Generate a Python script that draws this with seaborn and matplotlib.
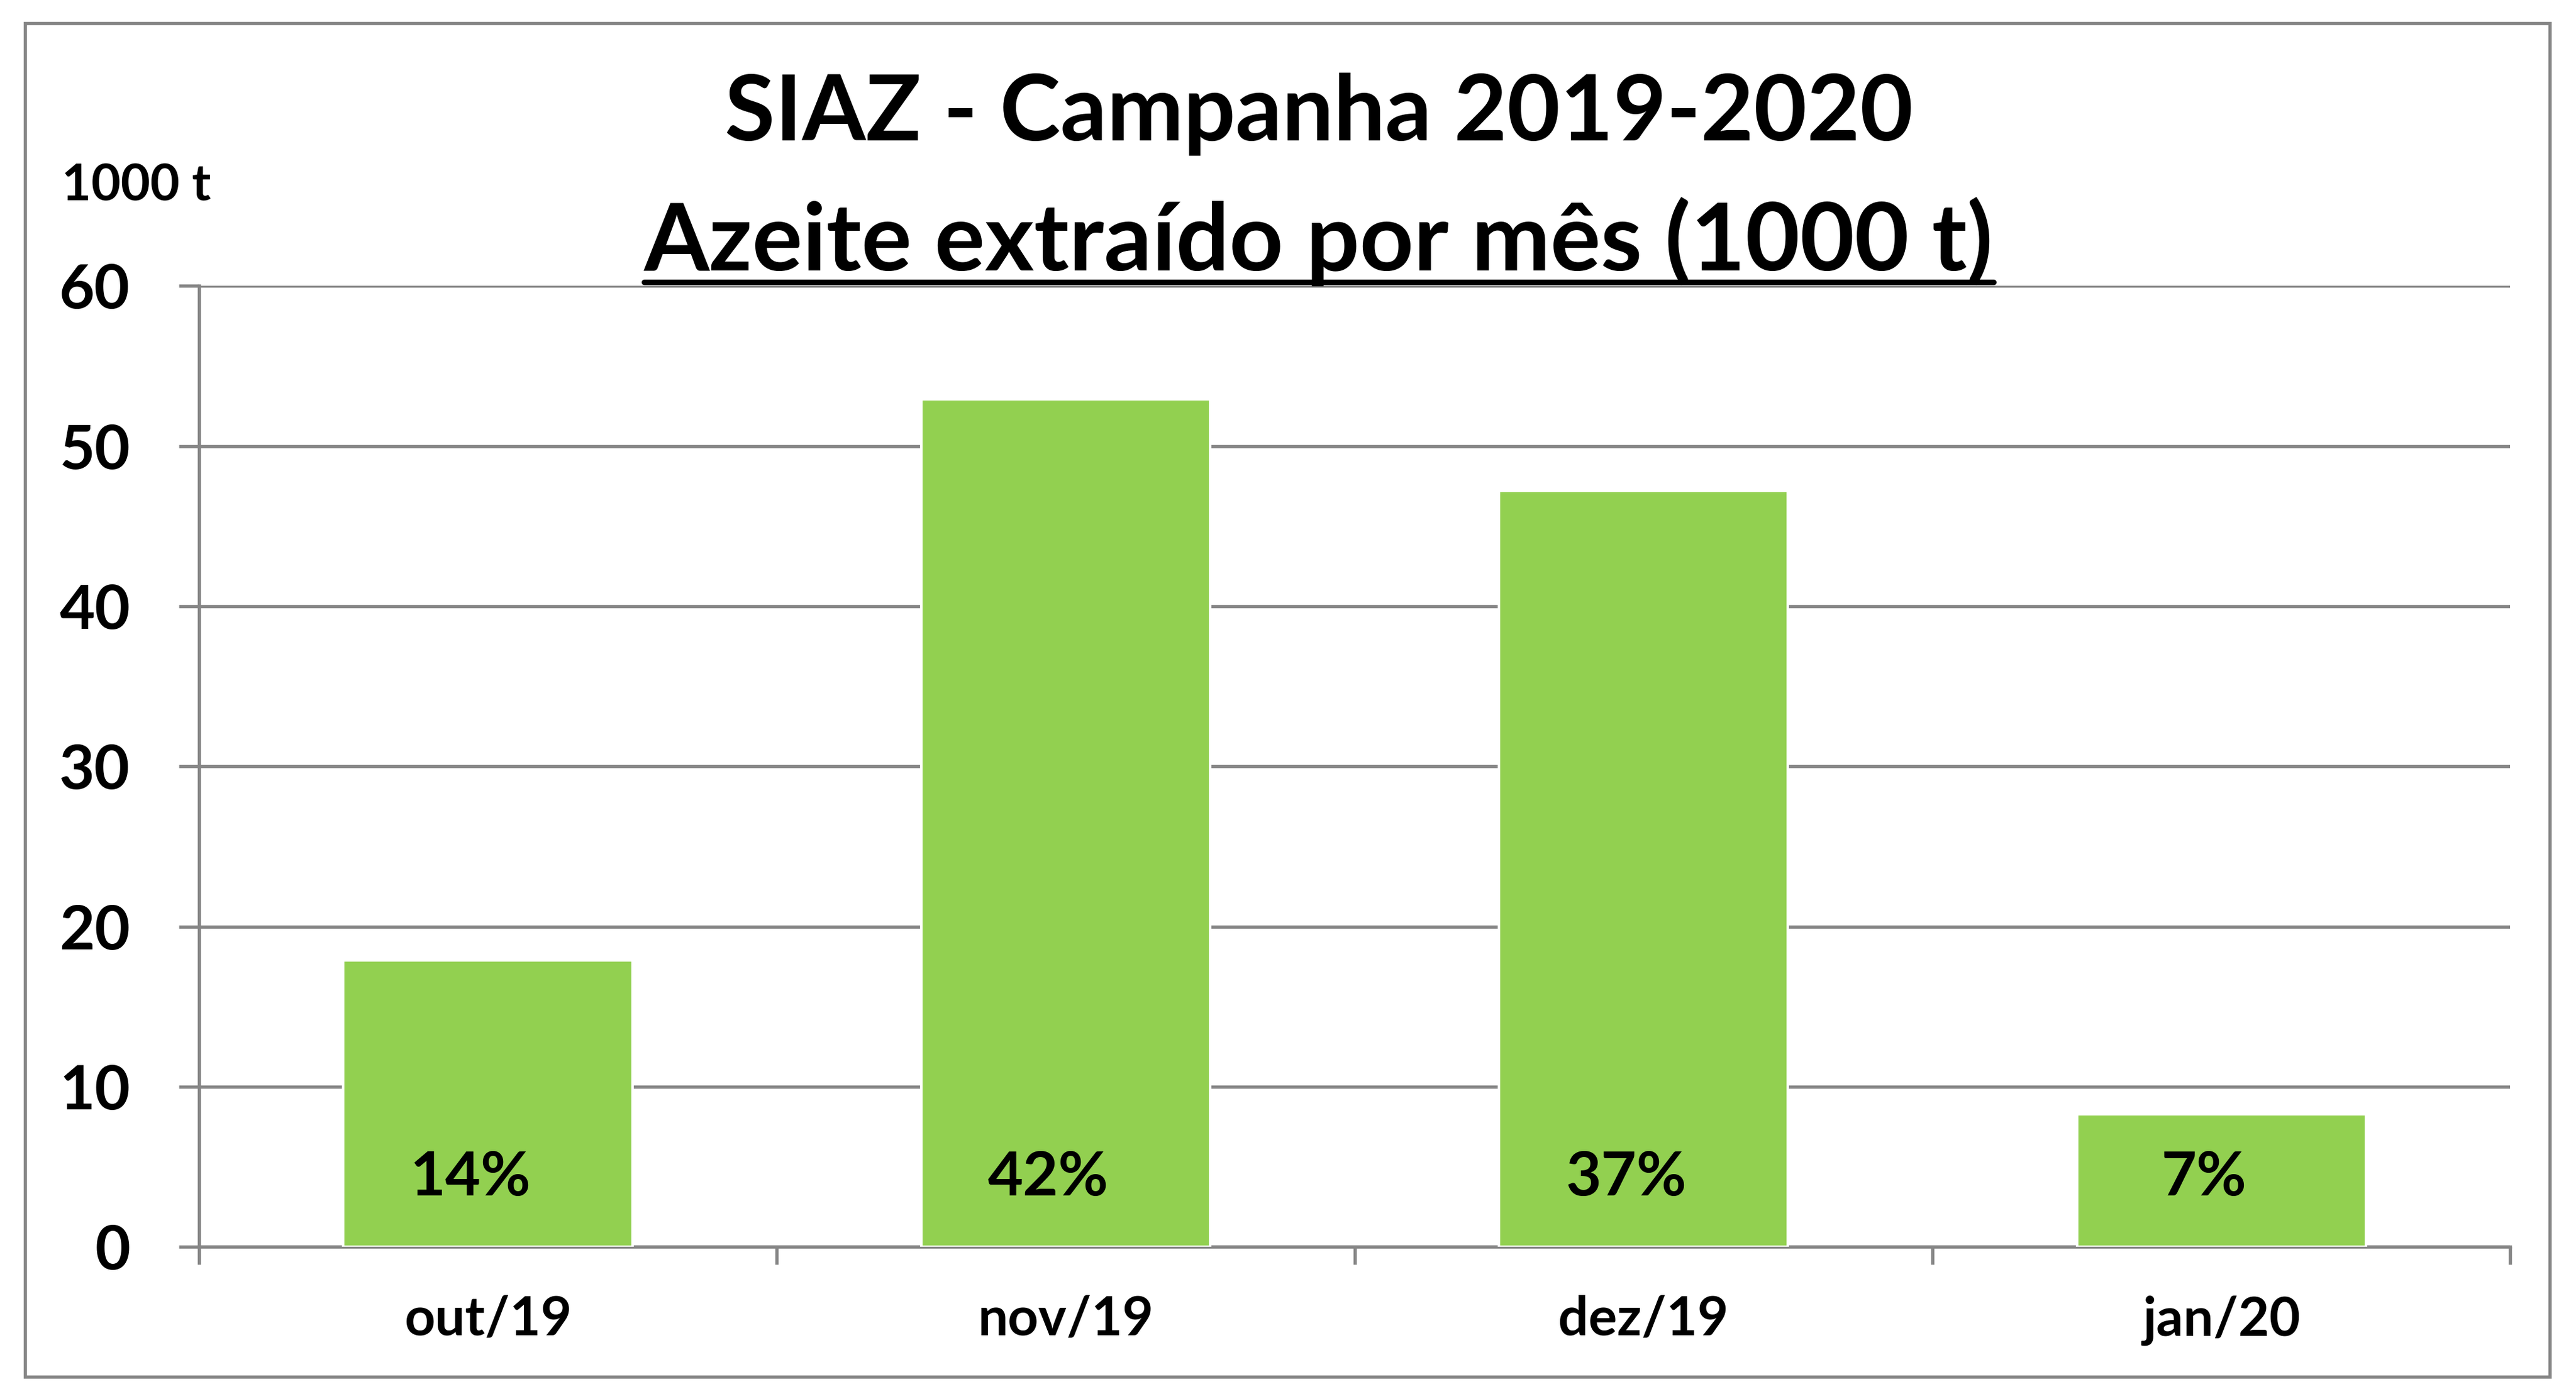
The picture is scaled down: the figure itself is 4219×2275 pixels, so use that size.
import numpy as np
import pandas as pd
import seaborn as sns
import matplotlib.pyplot as plt
from matplotlib.lines import Line2D
from matplotlib.patches import Rectangle

# ------------ data ----------------
months = ["out/19", "nov/19", "dez/19", "jan/20"]
azeite = [17.9, 52.9, 47.2, 8.3]
shares = ["14%", "42%", "37%", "7%"]

df = pd.DataFrame({"mes": months, "azeite": azeite})

# ------------ style ----------------
sns.set_style("white")
plt.rcParams['font.family'] = ['Lato', 'DejaVu Sans']
plt.rcParams['font.weight'] = 'bold'
plt.rcParams['text.color'] = 'black'
plt.rcParams['xtick.color'] = 'black'
plt.rcParams['ytick.color'] = 'black'

green = "#92D050"
grey = "#868686"

fig = plt.figure(figsize=(4219 / 300, 2275 / 300), dpi=300)
ax = fig.add_axes([0.0772, 0.1023, 0.9745 - 0.0772, 0.7942 - 0.1023])

sns.barplot(data=df, x="mes", y="azeite", color=green, width=0.5,
            saturation=1, ax=ax, zorder=3)

ax.set_ylim(0, 60)
ax.set_xlim(-0.5, 3.5)
ax.set_yticks(range(0, 61, 10))
ax.yaxis.grid(True, color=grey, linewidth=1.3, zorder=0)
ax.set_axisbelow(True)
ax.set_xlabel("")
ax.set_ylabel("")

for s in ["top", "right"]:
    ax.spines[s].set_visible(False)
for s in ["left", "bottom"]:
    ax.spines[s].set_color(grey)
    ax.spines[s].set_linewidth(1.3)

ax.tick_params(axis="y", length=8, width=1.3, color=grey, pad=19,
               labelsize=24, labelcolor="black", direction="out", left=True)
ax.tick_params(axis="x", which="major", length=0, pad=19, labelsize=21,
               labelcolor="black")
ax.set_xticks(np.arange(-0.5, 4, 1), minor=True)
ax.tick_params(axis="x", which="minor", length=7, width=1.3, color=grey,
               direction="out", bottom=True)
for lab in ax.get_xticklabels() + ax.get_yticklabels():
    lab.set_fontweight("bold")

# percent labels inside bars
for i, s in enumerate(shares):
    ax.text(i - 0.03, 4.3, s, ha="center", va="center", fontsize=24,
            fontweight="bold", color="black", zorder=4)

# ------------ titles ----------------
fig.text(0.512, 0.918, "SIAZ - Campanha 2019-2020", ha="center", va="center",
         fontsize=36, fontweight="bold", color="black")
t2 = fig.text(0.512, 0.826, "Azeite extraído por mês (1000 t)", ha="center",
              va="center", fontsize=37, fontweight="bold", color="black")
fig.text(0.024, 0.866, "1000 t", ha="left", va="center", fontsize=20,
         fontweight="bold", color="black")

# underline for second title line
fig.canvas.draw()
bb = t2.get_window_extent().transformed(fig.transFigure.inverted())
fig.add_artist(Line2D([bb.x0, bb.x1], [bb.y0 + 0.003, bb.y0 + 0.003],
                      transform=fig.transFigure, color="black", linewidth=2.2))

# outer border
fig.add_artist(Rectangle((0.0096, 0.0089), 0.9898 - 0.0096, 0.9834 - 0.0089,
                         transform=fig.transFigure, fill=False,
                         edgecolor=grey, linewidth=1.3))

fig.savefig("out.png", dpi=300)
